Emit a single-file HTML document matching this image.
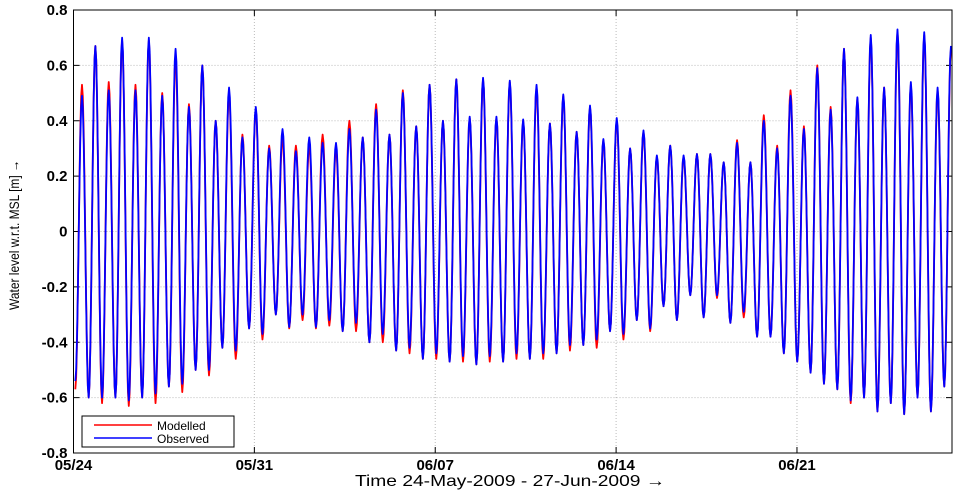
<!DOCTYPE html>
<html><head><meta charset="utf-8"><style>
body{margin:0;background:#fff;width:957px;height:493px;overflow:hidden}
svg{display:block}
text{font-family:"Liberation Sans",Arial,sans-serif}
</style></head><body>
<svg id="chart" width="957" height="493"></svg>
<script>
// data
const xTickLabels = ["05/24","05/31","06/07","06/14","06/21"];
const xTickDays = [0,7,14,21,28];
const yTicks = [-0.8,-0.6,-0.4,-0.2,0,0.2,0.4,0.6,0.8];
const yTickLabels = ["-0.8","-0.6","-0.4","-0.2","0","0.2","0.4","0.6","0.8"];
const firstLowDay = 0.07;
const tidePeriodDays = 0.5174;
const obsHigh = [0.49,0.67,0.51,0.70,0.51,0.70,0.49,0.66,0.45,0.60,0.40,0.52,0.34,0.45,0.30,0.37,0.29,0.34,0.32,0.32,0.37,0.34,0.44,0.35,0.50,0.38,0.53,0.40,0.55,0.415,0.555,0.415,0.545,0.405,0.53,0.39,0.495,0.36,0.455,0.334,0.41,0.30,0.365,0.275,0.31,0.275,0.28,0.28,0.25,0.32,0.25,0.40,0.30,0.49,0.37,0.59,0.44,0.66,0.485,0.71,0.52,0.73,0.54,0.72,0.52,0.67];
const obsLow = [-0.54,-0.60,-0.60,-0.60,-0.61,-0.60,-0.585,-0.56,-0.55,-0.50,-0.50,-0.42,-0.43,-0.35,-0.37,-0.30,-0.345,-0.30,-0.345,-0.32,-0.36,-0.33,-0.40,-0.37,-0.43,-0.42,-0.46,-0.44,-0.47,-0.45,-0.48,-0.45,-0.47,-0.44,-0.46,-0.44,-0.44,-0.41,-0.41,-0.39,-0.36,-0.37,-0.32,-0.35,-0.27,-0.32,-0.23,-0.31,-0.23,-0.33,-0.29,-0.38,-0.38,-0.44,-0.47,-0.51,-0.55,-0.57,-0.61,-0.60,-0.65,-0.62,-0.66,-0.60,-0.65,-0.56];
const modHigh = [0.53,0.67,0.54,0.69,0.53,0.69,0.50,0.63,0.46,0.60,0.40,0.50,0.35,0.44,0.31,0.34,0.31,0.31,0.35,0.30,0.40,0.34,0.46,0.35,0.51,0.38,0.53,0.40,0.55,0.41,0.55,0.41,0.54,0.40,0.52,0.39,0.49,0.36,0.45,0.33,0.40,0.30,0.36,0.27,0.31,0.27,0.28,0.28,0.25,0.33,0.25,0.42,0.31,0.51,0.38,0.60,0.45,0.66,0.48,0.70,0.52,0.72,0.53,0.71,0.51,0.66];
const modLow = [-0.57,-0.60,-0.62,-0.60,-0.63,-0.60,-0.62,-0.56,-0.58,-0.50,-0.52,-0.42,-0.46,-0.35,-0.39,-0.30,-0.35,-0.32,-0.35,-0.34,-0.36,-0.36,-0.40,-0.40,-0.43,-0.44,-0.46,-0.46,-0.47,-0.47,-0.48,-0.47,-0.47,-0.46,-0.46,-0.46,-0.44,-0.43,-0.41,-0.42,-0.36,-0.39,-0.32,-0.36,-0.27,-0.32,-0.23,-0.31,-0.24,-0.33,-0.31,-0.38,-0.38,-0.44,-0.47,-0.51,-0.55,-0.57,-0.62,-0.60,-0.65,-0.62,-0.66,-0.60,-0.65,-0.56];

const L=73.5,R=952,T=10,B=453,D0=0,D1=34;
const xs=d=>L+(d-D0)/(D1-D0)*(R-L);
const ys=v=>B-(v+0.8)/1.6*(B-T);
const svg=document.getElementById('chart');
const NS='http://www.w3.org/2000/svg';
function mk(tag,attrs,parent){const e=document.createElementNS(NS,tag);for(const k in attrs)e.setAttribute(k,attrs[k]);(parent||svg).appendChild(e);return e;}

// grid
xTickDays.forEach((d,i)=>{
  const g=mk('line',{x1:xs(d),x2:xs(d),y1:T,y2:B,stroke:'#bbb','stroke-dasharray':'1,2'});
  
  
  const t=mk('line',{x1:xs(d),x2:xs(d),y1:B,y2:B-6,stroke:'#000'});
  
  
  const t2=mk('line',{x1:xs(d),x2:xs(d),y1:T,y2:T+6,stroke:'#000'});
  
  
  const lb=mk('text',{x:xs(d),y:470,'text-anchor':'middle','font-size':15,'font-weight':'bold'});
  lb.textContent=xTickLabels[i];
  
  
});
yTicks.forEach((v,i)=>{
  const g=mk('line',{x1:L,x2:R,y1:ys(v),y2:ys(v),stroke:'#bbb','stroke-dasharray':'1,2'});
  
  
  const t=mk('line',{x1:L,x2:L+6,y1:ys(v),y2:ys(v),stroke:'#000'});
  
  
  const t2=mk('line',{x1:R,x2:R-6,y1:ys(v),y2:ys(v),stroke:'#000'});
  
  
  const lb=mk('text',{x:L-6,y:ys(v)+5,'text-anchor':'end','font-size':15,'font-weight':'bold'});
  lb.textContent=yTickLabels[i];
  
  
});

const clip=mk('clipPath',{id:'pc'});mk('rect',{x:L,y:T,width:R-L,height:B-T},clip);
const gClip=mk('g',{'clip-path':'url(#pc)'});



function series(high,low,color,name){
  const ext=[];
  for(let i=0;i<Math.max(high.length,low.length);i++){
    if(i<low.length)ext.push([firstLowDay+i*tidePeriodDays,low[i]]);
    if(i<high.length)ext.push([firstLowDay+(i+0.5)*tidePeriodDays,high[i]]);
  }
  let d='M'+xs(ext[0][0]).toFixed(2)+','+ys(ext[0][1]).toFixed(2);
  for(let k=1;k<ext.length;k++){
    const [t0,v0]=ext[k-1],[t1,v1]=ext[k];
    for(let s=1;s<=8;s++){
      const f=s/8,w=(1-Math.cos(Math.PI*f))/2;
      const t=t0+(t1-t0)*f,v=v0+(v1-v0)*w;
      d+='L'+xs(Math.min(t,D1)).toFixed(2)+','+ys(v).toFixed(2);
    }
  }
  const p=mk('path',{d:d,fill:'none',stroke:color,'stroke-width':1.8,'stroke-linejoin':'round'},gClip);
  
  
}
series(modHigh,modLow,'#ff0000','modelled-line');
series(obsHigh,obsLow,'#0000ff','observed-line');

// frame
const fr=mk('rect',{x:L,y:T,width:R-L,height:B-T,fill:'none',stroke:'#000','stroke-width':1});



// legend
const lg=mk('g',{});


mk('rect',{x:82,y:416,width:152,height:31,fill:'#fff',stroke:'#000'},lg);
mk('line',{x1:94,x2:152,y1:425,y2:425,stroke:'#ff0000','stroke-width':1.5},lg);
mk('line',{x1:94,x2:152,y1:438,y2:438,stroke:'#0000ff','stroke-width':1.5},lg);
const l1=mk('text',{x:157,y:430,'font-size':12},lg);l1.textContent='Modelled';


const l2=mk('text',{x:157,y:443,'font-size':12},lg);l2.textContent='Observed';



// titles
const xt=mk('text',{x:355,y:486,'font-size':16,textLength:310,lengthAdjust:'spacingAndGlyphs'});
xt.textContent='Time 24-May-2009 - 27-Jun-2009 \u2192';


const yt=mk('text',{x:0,y:0,'font-size':14,textLength:150,lengthAdjust:'spacingAndGlyphs',transform:'translate(19,310) rotate(-90)'});
yt.textContent='Water level w.r.t. MSL [m] \u2192';


</script>
</body></html>
